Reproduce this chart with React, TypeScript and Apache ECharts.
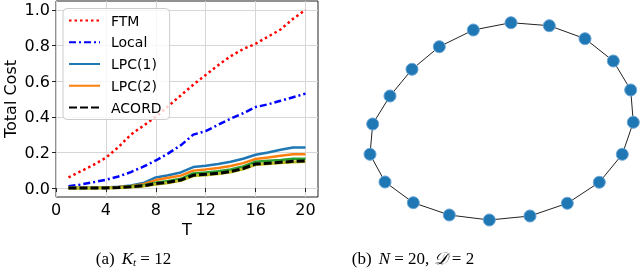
import React, { useEffect, useRef } from "react";
import * as echarts from "echarts";

// ---- Data (left panel) ----
const T = [1, 2, 3, 4, 5, 6, 7, 8, 9, 10, 11, 12, 13, 14, 15, 16, 17, 18, 19, 20];
const ftm = [0.06, 0.095, 0.13, 0.17, 0.23, 0.30, 0.35, 0.40, 0.46, 0.52, 0.58, 0.635, 0.69, 0.74, 0.78, 0.81, 0.85, 0.89, 0.95, 1.0];
const local = [0.01, 0.02, 0.033, 0.047, 0.065, 0.09, 0.12, 0.155, 0.195, 0.24, 0.30, 0.32, 0.355, 0.39, 0.42, 0.455, 0.47, 0.49, 0.51, 0.53];
const lpc1 = [0.0, 0.0, 0.002, 0.004, 0.008, 0.015, 0.028, 0.06, 0.072, 0.088, 0.118, 0.125, 0.135, 0.148, 0.165, 0.187, 0.2, 0.215, 0.228, 0.228];
const lpc2 = [0.0, 0.0, 0.001, 0.003, 0.006, 0.012, 0.022, 0.045, 0.058, 0.07, 0.098, 0.105, 0.113, 0.124, 0.14, 0.163, 0.172, 0.182, 0.19, 0.19];
const extraGreen = [0.0, 0.0, 0.0, 0.002, 0.004, 0.01, 0.016, 0.03, 0.04, 0.052, 0.082, 0.087, 0.094, 0.104, 0.122, 0.148, 0.153, 0.158, 0.164, 0.165];
const extraOlive = [0.0, 0.0, 0.0, 0.001, 0.002, 0.006, 0.011, 0.022, 0.03, 0.042, 0.069, 0.074, 0.08, 0.09, 0.107, 0.132, 0.137, 0.142, 0.147, 0.149];
const acord = [0.0, 0.0, 0.0, 0.001, 0.003, 0.008, 0.013, 0.025, 0.033, 0.045, 0.072, 0.077, 0.083, 0.093, 0.11, 0.135, 0.14, 0.145, 0.15, 0.152];
const legendNames = ["FTM", "Local", "LPC(1)", "LPC(2)", "ACORD"];
const xTicks = [0, 4, 8, 12, 16, 20];
const yTicks = [0, 0.2, 0.4, 0.6, 0.8, 1.0];

// ---- Data (right panel): ring graph, node layout positions ----
const nodeX = [372.7, 390, 412, 439.3, 473.3, 511, 549.3, 585, 613.3, 630.7, 633.3, 622.3, 599.3, 567.3, 530, 489.3, 449.3, 413.3, 385, 370];
const nodeY = [124, 96, 69.3, 46.7, 30, 22.7, 25.7, 38.7, 61, 90, 122.3, 154.3, 182.3, 203.3, 216, 220, 215, 202.7, 182, 154.3];

const pairs = (vals: number[]) => T.map((t, i) => [t, vals[i]]);

export default function App() {
  const ref = useRef<HTMLDivElement>(null);
  useEffect(() => {
    if (!ref.current) return;
    const chart = echarts.init(ref.current, null, { renderer: "svg" });
    const font = "DejaVu Sans";
    const serif = "Liberation Serif";
    const lineSeries = (name: string, vals: number[], color: string, width: number, type: any, z: number) => ({
      type: "line",
      name,
      data: pairs(vals),
      symbol: "none",
      z,
      lineStyle: { color, width, type, cap: "butt" },
      itemStyle: { color },
      emphasis: { disabled: true },
    });
    const nodes = nodeX.map((x, i) => ({ name: "n" + i, x, y: nodeY[i] }));
    const links = nodeX.map((_, i) => ({ source: "n" + i, target: "n" + ((i + 1) % nodeX.length) }));
    chart.setOption({
      animation: false,
      grid: {
        left: 56,
        top: 1,
        width: 262,
        height: 196,
        show: true,
        borderColor: "#222",
        borderWidth: 1,
        backgroundColor: "transparent",
        outerBoundsMode: "none",
      },
      xAxis: {
        type: "value",
        min: 0,
        max: 21,
        name: "T",
        nameLocation: "middle",
        nameGap: 23,
        nameTextStyle: { fontSize: 16, color: "#000", fontFamily: font },
        axisLine: { show: false },
        axisTick: { show: true, length: 4, customValues: xTicks, lineStyle: { color: "#222" } },
        axisLabel: { customValues: xTicks, fontSize: 16, color: "#000", fontFamily: font, margin: 4 },
        splitLine: { show: true, lineStyle: { color: "#d6d6d6", width: 1 } },
      },
      yAxis: {
        type: "value",
        min: -0.05,
        max: 1.05,
        name: "Total Cost",
        nameLocation: "middle",
        nameGap: 38,
        nameRotate: 90,
        nameTextStyle: { fontSize: 16, color: "#000", fontFamily: font },
        axisLine: { show: false },
        axisTick: { show: true, length: 4, customValues: yTicks, lineStyle: { color: "#222" } },
        axisLabel: {
          customValues: yTicks,
          fontSize: 16,
          color: "#000",
          fontFamily: font,
          margin: 6,
          formatter: (v: number) => v.toFixed(1),
        },
        splitLine: { show: true, lineStyle: { color: "#d6d6d6", width: 1 } },
      },
      legend: {
        data: legendNames,
        orient: "vertical",
        left: 63,
        top: 8.5,
        padding: [5, 8, 5, 5],
        itemWidth: 31,
        itemHeight: 14,
        itemGap: 7.75,
        backgroundColor: "rgba(255,255,255,0.8)",
        borderColor: "#cccccc",
        borderWidth: 1,
        borderRadius: 4,
        itemStyle: { color: "rgba(0,0,0,0)", borderWidth: 0 },
        textStyle: { fontSize: 14, color: "#000", fontFamily: font, padding: [0, 0, 0, 6] },
        selectedMode: false,
      },
      series: [
        lineSeries("FTM", ftm, "#ff0000", 2.5, [2.5, 3], 2),
        lineSeries("Local", local, "#0000ff", 2.5, [7, 3, 2, 3], 2),
        lineSeries("LPC(1)", lpc1, "#1f77b4", 2.5, "solid", 2),
        lineSeries("LPC(2)", lpc2, "#ff7f0e", 2.5, "solid", 2),
        lineSeries("extra-green", extraGreen, "#2ca02c", 2.5, "solid", 2),
        lineSeries("extra-olive", extraOlive, "#bcbd22", 3, "solid", 2),
        lineSeries("ACORD", acord, "#000000", 3, [8, 3], 3),
        {
          type: "graph",
          layout: "none",
          left: 370,
          top: 22.7,
          width: 263.3,
          height: 197.3,
          roam: false,
          symbol: "circle",
          symbolSize: 12,
          itemStyle: { color: "#1f77b4", borderColor: "#6aa6d6", borderWidth: 1, opacity: 1 },
          lineStyle: { color: "#222", width: 1, opacity: 1, curveness: 0 },
          label: { show: false },
          emphasis: { disabled: true },
          data: nodes,
          links,
          z: 3,
        },
      ],
      graphic: [
        {
          type: "text",
          x: 133.5,
          y: 258,
          style: {
            text: "{n|(a)}{g| }{i|K}{s|t}{n| = 12}",
            align: "center",
            verticalAlign: "middle",
            fill: "#000",
            rich: {
              n: { fontFamily: serif, fontSize: 17, fill: "#000" },
              g: { fontFamily: serif, fontSize: 17, width: 7 },
              i: { fontFamily: serif, fontSize: 17, fontStyle: "italic", fill: "#000" },
              s: { fontFamily: serif, fontSize: 11, fontStyle: "italic", fill: "#000", padding: [8, 0, 0, 0] },
            },
          },
        },
        {
          type: "text",
          x: 413,
          y: 258,
          style: {
            text: "{n|(b)}{g| }{i|N}{n| = 20, }{i|𝒟}{n| = 2}",
            align: "center",
            verticalAlign: "middle",
            fill: "#000",
            rich: {
              n: { fontFamily: serif, fontSize: 17, fill: "#000" },
              g: { fontFamily: serif, fontSize: 17, width: 7 },
              i: { fontFamily: serif, fontSize: 17, fontStyle: "italic", fill: "#000" },
            },
          },
        },
      ],
    });
    return () => chart.dispose();
  }, []);
  return <div ref={ref} style={{ position: "fixed", left: 0, top: 0, width: 640, height: 277 }} />;
}
